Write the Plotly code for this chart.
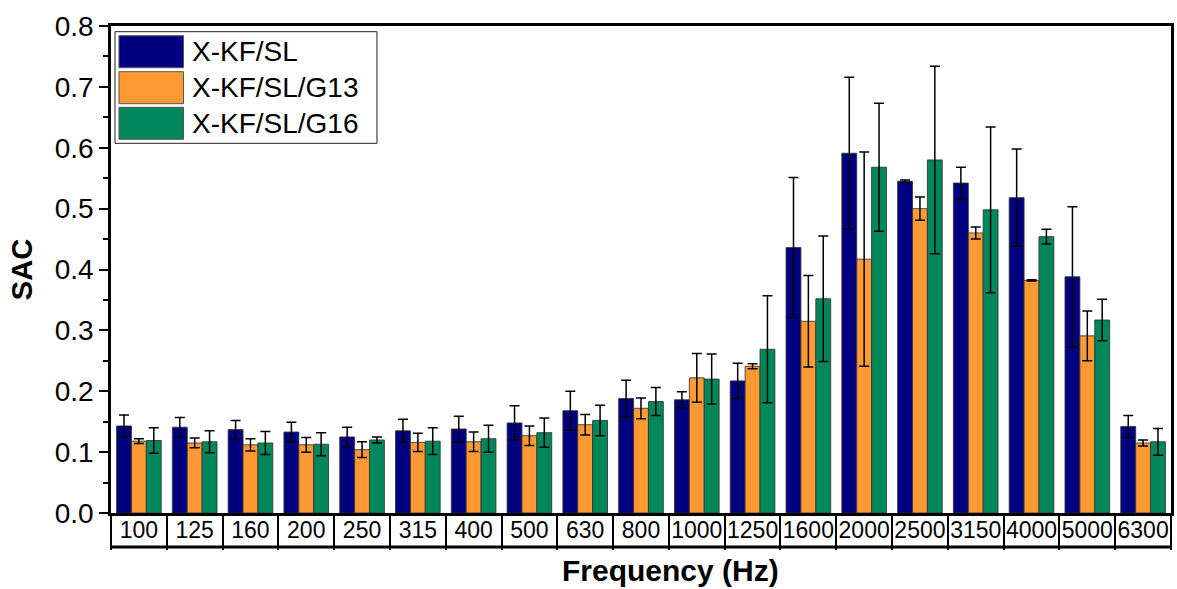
import plotly.graph_objects as go

categories = ["100", "125", "160", "200", "250", "315", "400", "500", "630", "800",
              "1000", "1250", "1600", "2000", "2500", "3150", "4000", "5000", "6300"]
series_names = ["X-KF/SL", "X-KF/SL/G13", "X-KF/SL/G16"]
sac_kfsl = [0.143, 0.141, 0.137, 0.133, 0.125, 0.135, 0.138, 0.148, 0.168, 0.188,
            0.186, 0.217, 0.436, 0.591, 0.545, 0.542, 0.518, 0.388, 0.142]
err_kfsl = [0.018, 0.016, 0.015, 0.016, 0.016, 0.019, 0.021, 0.028, 0.032, 0.030,
            0.013, 0.029, 0.115, 0.125, 0.002, 0.026, 0.080, 0.115, 0.018]
sac_g13 = [0.118, 0.115, 0.112, 0.112, 0.104, 0.116, 0.117, 0.127, 0.145, 0.172,
           0.222, 0.241, 0.315, 0.417, 0.500, 0.460, 0.382, 0.291, 0.115]
err_g13 = [0.004, 0.008, 0.010, 0.012, 0.013, 0.015, 0.016, 0.016, 0.017, 0.017,
           0.040, 0.004, 0.075, 0.176, 0.019, 0.010, 0.001, 0.041, 0.005]
sac_g16 = [0.119, 0.117, 0.115, 0.113, 0.120, 0.118, 0.122, 0.132, 0.152, 0.183,
           0.220, 0.269, 0.352, 0.568, 0.580, 0.498, 0.454, 0.317, 0.117]
err_g16 = [0.021, 0.018, 0.019, 0.019, 0.005, 0.022, 0.022, 0.024, 0.025, 0.023,
           0.041, 0.088, 0.103, 0.105, 0.154, 0.136, 0.012, 0.034, 0.022]
y_ticks = [0.0, 0.1, 0.2, 0.3, 0.4, 0.5, 0.6, 0.7, 0.8]

colors = ["#000080", "#FF9933", "#00885C"]
FONT = "Arial, Liberation Sans, sans-serif"

W, H = 1177, 589
ML, MR, MT, MB = 111, 3, 26, 76
PW, PH = W - ML - MR, H - MT - MB

def px_x(p):
    return (p - ML) / PW

def px_y(p):
    return (H - MB - p) / PH

fig = go.Figure()
for name, vals, errs, col in zip(series_names, [sac_kfsl, sac_g13, sac_g16],
                                 [err_kfsl, err_g13, err_g16], colors):
    fig.add_trace(go.Bar(
        x=categories, y=vals, name=name,
        marker=dict(color=col, line=dict(color="rgba(50,50,50,0.85)", width=1)),
        error_y=dict(type="data", array=errs, visible=True, color="black",
                     thickness=1.5, width=5),
        showlegend=False,
    ))

fig.update_layout(
    width=W, height=H,
    margin=dict(l=ML, r=MR, t=MT, b=MB),
    paper_bgcolor="white", plot_bgcolor="white",
    barmode="group", bargap=0.2, bargroupgap=0,
    font=dict(family=FONT, color="black"),
)
fig.update_xaxes(
    type="category", categoryorder="array", categoryarray=categories,
    showline=True, linecolor="black", linewidth=3, mirror=True,
    ticks="outside", tickson="boundaries", ticklen=34, tickwidth=2, tickcolor="black",
    tickfont=dict(size=23, family=FONT), ticklabelstandoff=-6, tickangle=0,
    showgrid=False, zeroline=False,
)
fig.update_yaxes(
    range=[0, 0.8], tickvals=y_ticks, ticktext=[f"{v:.1f}" for v in y_ticks],
    showline=True, linecolor="black", linewidth=2.5, mirror=True,
    ticks="outside", ticklen=9, tickwidth=2, tickcolor="black",
    minor=dict(ticks="outside", ticklen=5, tickwidth=1.5, tickcolor="black", dtick=0.05),
    tickfont=dict(size=28, family=FONT),
    title=dict(text="<b>SAC</b>", font=dict(size=29, family=FONT), standoff=14),
    showgrid=False, zeroline=False,
)

# bottom line of the category table
fig.add_shape(type="line", xref="paper", yref="paper", x0=0, x1=1,
              y0=px_y(547), y1=px_y(547), line=dict(color="black", width=3))

# x-axis title
fig.add_annotation(text="<b>Frequency (Hz)</b>", xref="paper", yref="paper",
                   x=px_x(672), y=px_y(570), xanchor="center", yanchor="middle",
                   showarrow=False, font=dict(size=30, family=FONT, color="black"))

# custom legend
fig.add_shape(type="rect", xref="paper", yref="paper",
              x0=px_x(115), x1=px_x(377.7), y0=px_y(143.3), y1=px_y(31.7),
              line=dict(color="#222", width=1), fillcolor="white", layer="above")
sw_tops = [35.7, 71.7, 107.3]
for name, col, top in zip(series_names, colors, sw_tops):
    fig.add_shape(type="rect", xref="paper", yref="paper",
                  x0=px_x(119), x1=px_x(183.7), y0=px_y(top + 32), y1=px_y(top),
                  line=dict(color="#555", width=1), fillcolor=col, layer="above")
    fig.add_annotation(text=name, xref="paper", yref="paper",
                       x=px_x(190), y=px_y(top + 16), xanchor="left", yanchor="middle",
                       showarrow=False, font=dict(size=28, family=FONT, color="black"))

fig.write_html("out.html")
